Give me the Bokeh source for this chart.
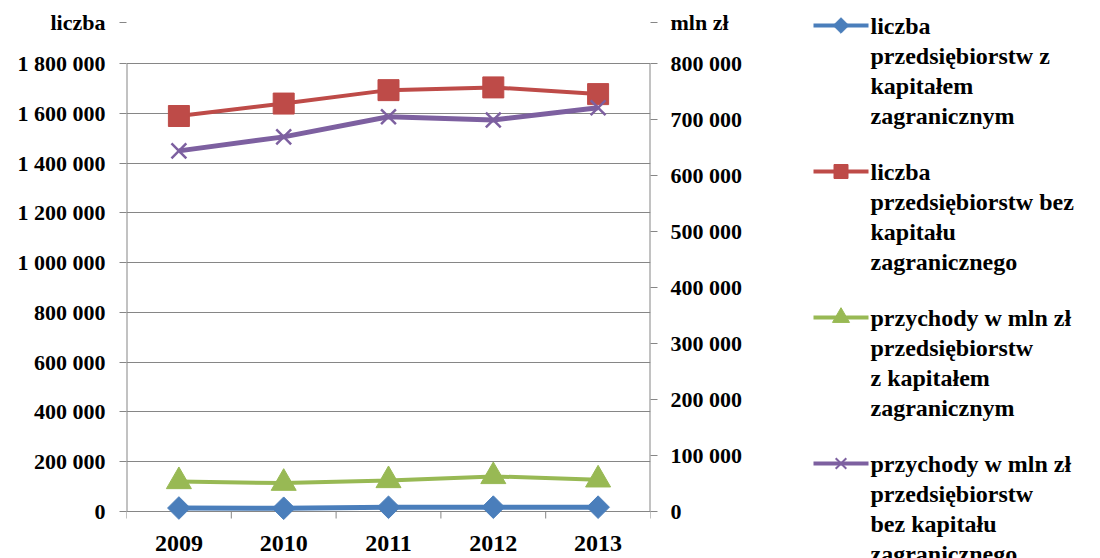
import math
from bokeh.plotting import figure
from bokeh.models import Range1d, LinearAxis, FixedTicker
from bokeh.layouts import row
from bokeh.embed import file_html
from bokeh.resources import INLINE
from bokeh.core.properties import value

# ---------------- data ----------------
years = ["2009", "2010", "2011", "2012", "2013"]
liczba_z_kapitalem = [14000, 13000, 17000, 17500, 17500]            # left axis (liczba)
liczba_bez_kapitalu = [1589000, 1639000, 1693000, 1704000, 1677000]  # left axis (liczba)
przychody_z_kapitalem = [53700, 50700, 55500, 62700, 56700]          # right axis (mln zł)
przychody_bez_kapitalu = [644000, 669000, 705000, 699000, 721000]    # right axis (mln zł)

left_ticks = [0, 200000, 400000, 600000, 800000, 1000000, 1200000, 1400000, 1600000, 1800000]
right_ticks = [0, 100000, 200000, 300000, 400000, 500000, 600000, 700000, 800000]

series_labels = [
    "liczba\nprzedsiębiorstw z\nkapitałem\nzagranicznym",
    "liczba\nprzedsiębiorstw bez\nkapitału\nzagranicznego",
    "przychody w mln zł\nprzedsiębiorstw\nz kapitałem\nzagranicznym",
    "przychody w mln zł\nprzedsiębiorstw\nbez kapitału\nzagranicznego",
]
left_title = "liczba"
right_title = "mln zł"

# ---------------- style / layout ----------------
FONT = "Liberation Serif"
GRAY = "#868686"
colors = ["#4A7EBB", "#BE4B48", "#98B954", "#7D60A0"]
markers = ["square", "square", "triangle", "x"]
marker_angles = [math.pi / 4, 0, 0, 0]
marker_sizes = [16, 21, 25, 21]
legend_marker_sizes = [11, 14, 17, 15]
line_widths = [5, 4, 4, 5]

W_MAIN, W_LEG, H = 808, 292, 558
FL, FR = 126, 650          # page x of the plot-area left / right edges
PT, PB = 63, 511           # page y of the top tick and of the zero line
L_MAX, R_MAX = left_ticks[-1], right_ticks[-1]


def lval(py):
    return L_MAX * (PB - py) / (PB - PT)


def rval(py):
    return R_MAX * (PB - py) / (PB - PT)


def fmt(v):
    return f"{v:,}".replace(",", " ")


TITLE_Y = 22
YEAR_Y = 543
TICK_Y = 518
title_l = round(lval(TITLE_Y))
title_r = round(rval(TITLE_Y))

p = figure(width=W_MAIN, height=H, x_range=years, title=None,
           y_range=Range1d(lval(H), lval(0)), x_axis_location=None,
           output_backend="svg", toolbar_location=None,
           min_border_left=FL, min_border_right=W_MAIN - FR, min_border_top=0,
           min_border_bottom=0, background_fill_color="white",
           border_fill_color="white")
p.outline_line_color = None
p.extra_y_ranges = {"right": Range1d(rval(H), rval(0))}

p.xgrid.visible = False
p.ygrid.ticker = FixedTicker(ticks=left_ticks)
p.ygrid.grid_line_color = GRAY
p.ygrid.grid_line_width = 1


def style_axis(ax, standoff, size):
    ax.axis_line_color = None
    ax.major_tick_line_color = GRAY
    ax.major_tick_out = 7
    ax.major_tick_in = 0
    ax.minor_tick_line_color = None
    ax.major_label_standoff = standoff
    ax.major_label_text_font = FONT
    ax.major_label_text_font_style = "bold"
    ax.major_label_text_font_size = size
    ax.major_label_text_color = "black"


ya = p.yaxis[0]
ya.ticker = FixedTicker(ticks=left_ticks + [title_l])
lo = {v: fmt(v) for v in left_ticks}
lo[title_l] = left_title
ya.major_label_overrides = lo
style_axis(ya, 14, "22px")

ra = LinearAxis(y_range_name="right", ticker=FixedTicker(ticks=right_ticks + [title_r]))
ro = {v: fmt(v) for v in right_ticks}
ro[title_r] = right_title
ra.major_label_overrides = ro
style_axis(ra, 13, "22px")
p.add_layout(ra, "right")

# vertical axis lines of the plot area (left and right edges)
p.line(x=[(years[0], -0.5), (years[0], -0.5)], y=[0, L_MAX], line_color=GRAY, line_width=2)
p.line(x=[(years[-1], 0.5), (years[-1], 0.5)], y=[0, L_MAX], line_color=GRAY, line_width=2)

# tick marks between categories below the zero line
bx = [(y, -0.5) for y in years] + [(years[-1], 0.5)]
p.segment(x0=bx, y0=[0] * len(bx), x1=bx, y1=[lval(TICK_Y)] * len(bx),
          line_color=GRAY, line_width=1)

# series
all_series = [liczba_z_kapitalem, liczba_bez_kapitalu, przychody_z_kapitalem, przychody_bez_kapitalu]
range_names = ["default", "default", "right", "right"]
for vals, c, m, a, s, lw, rn in zip(all_series, colors, markers, marker_angles,
                                    marker_sizes, line_widths, range_names):
    p.line(years, vals, color=c, line_width=lw, y_range_name=rn)
    if m == "x":
        p.scatter(years, vals, marker=m, size=s, line_color=c, line_width=2.5,
                  y_range_name=rn)
    else:
        p.scatter(years, vals, marker=m, size=s, angle=a, fill_color=c,
                  line_color=c, y_range_name=rn)

# year labels
p.text(x=years, y=[lval(YEAR_Y)] * len(years), text=years, text_font=value(FONT),
       text_font_style="bold", text_font_size="24px", text_align="center",
       text_baseline="middle", text_color="black")

# ---------------- legend panel ----------------
lg = figure(width=W_LEG, height=H, title=None,
            x_range=Range1d(W_MAIN, W_MAIN + W_LEG), y_range=Range1d(H, 0),
            x_axis_location=None, y_axis_location=None, output_backend="svg",
            toolbar_location=None, min_border=0, background_fill_color="white",
            border_fill_color="white")
lg.outline_line_color = None
lg.xgrid.visible = False
lg.ygrid.visible = False

FIRST_Y = 25
ENTRY_STEP = 146
LINE_STEP = 30
GX0, GX1, TX = 813, 868, 870
for k, (lab, c, m, a, s) in enumerate(zip(series_labels, colors, markers,
                                          marker_angles, legend_marker_sizes)):
    y0 = FIRST_Y + ENTRY_STEP * k
    lg.line([GX0, GX1], [y0, y0], color=c, line_width=4)
    if m == "x":
        lg.scatter([(GX0 + GX1) / 2], [y0], marker=m, size=s, line_color=c, line_width=2)
    else:
        lg.scatter([(GX0 + GX1) / 2], [y0], marker=m, size=s, angle=a,
                   fill_color=c, line_color=c)
    lines = lab.split("\n")
    lg.text(x=[TX] * len(lines), y=[y0 + LINE_STEP * j for j in range(len(lines))],
            text=lines, text_font=value(FONT), text_font_style="bold",
            text_font_size="24px", text_baseline="middle", text_align="left",
            text_color="black")

layout = row(p, lg)
open("out.html", "w").write(file_html(layout, INLINE))
